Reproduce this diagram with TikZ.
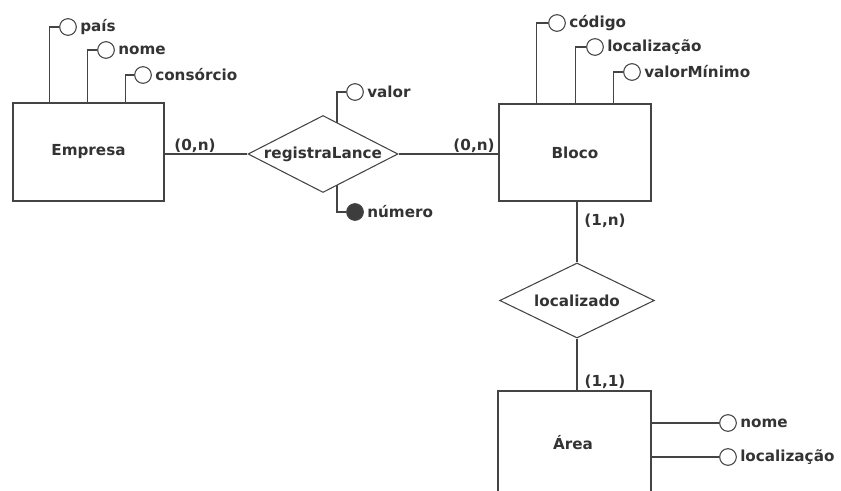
\documentclass[tikz,border=0pt]{standalone}
\usepackage{fontspec}
\setmainfont{DejaVu Sans}
\usetikzlibrary{shapes.geometric}
\definecolor{ln}{HTML}{444444}
\definecolor{tx}{HTML}{333333}
\tikzset{
  ent/.style={draw=ln, line width=1.3pt, rectangle, inner sep=0pt, text=tx, font=\fontsize{11.4}{13}\selectfont\bfseries},
  rel/.style={draw=ln, line width=0.8pt, diamond, aspect=2, inner sep=0pt, text=tx, font=\fontsize{11.4}{13}\selectfont\bfseries},
  attr/.style={draw=ln, line width=0.8pt, circle, fill=white, minimum size=12.5pt, inner sep=0pt},
  keyattr/.style={attr, fill=ln!90!black},
  lab/.style={anchor=west, inner sep=0pt, text=tx, font=\fontsize{11.4}{13}\selectfont\bfseries},
  card/.style={inner sep=0pt, text=tx, font=\fontsize{11.4}{13}\selectfont\bfseries},
  conn/.style={draw=ln, line width=0.9pt},
}
\begin{document}
\begin{tikzpicture}[x=0.75pt, y=-0.75pt]
\useasboundingbox (0,0) rectangle (841,491);
\clip (0,0) rectangle (841,491);
% entities
\node[ent, minimum width=113.25pt, minimum height=73.5pt] (emp) at (88.5,152) {Empresa};
\node[ent, minimum width=114pt, minimum height=72.75pt] (blo) at (575,152.5) {Bloco};
\node[ent, minimum width=114.75pt, minimum height=78pt, text depth=0pt] (are) at (574.5,443) {};
\node[card] (aretxt) at (573,443) {Área};
% relationships
\node[rel, minimum width=112.5pt, minimum height=57.75pt] (reg) at (323,154) {registraLance};
\node[rel, minimum width=116pt, minimum height=56.25pt] (loc) at (577,300.5) {localizado};
% Empresa attributes
\node[attr] (pais) at (68,27) {};
\node[lab] (paisl) at (80,27) {país};
\node[attr] (nome) at (106,50) {};
\node[lab] (nomel) at (118,50) {nome};
\node[attr] (cons) at (143,75) {};
\node[lab] (consl) at (155,75) {consórcio};
\draw[conn] (emp.north west) ++(37,0) |- (pais.west);
\draw[conn] (emp.north west) ++(75,0) |- (nome.west);
\draw[conn] (emp.north west) ++(113,0) |- (cons.west);
% Bloco attributes
\node[attr] (cod) at (557,23) {};
\node[lab] (codl) at (569,23) {código};
\node[attr] (bloc) at (595,47) {};
\node[lab] (blocl) at (607,47) {localização};
\node[attr] (vmin) at (632,72) {};
\node[lab] (vminl) at (644,72) {valorMínimo};
\draw[conn] (blo.north west) ++(38,0) |- (cod.west);
\draw[conn] (blo.north west) ++(77,0) |- (bloc.west);
\draw[conn] (blo.north west) ++(115,0) |- (vmin.west);
% registraLance attributes
\node[attr] (val) at (355,92) {};
\node[lab] (vall) at (367,92) {valor};
\node[keyattr] (num) at (355,212) {};
\node[lab] (numl) at (367,212) {número};
\coordinate (vtop) at (337,123);
\coordinate (vbot) at (337,185);
\draw[conn] (vtop) |- (val.west);
\draw[conn] (vbot) |- (num.west);
% Área attributes
\node[attr] (anome) at (728,423) {};
\node[lab] (anomel) at (740,423) {nome};
\node[attr] (aloc) at (728,457) {};
\node[lab] (alocl) at (740,457) {localização};
\draw[conn] (are.east |- anome) -- (anome.west);
\draw[conn] (are.east |- aloc) -- (aloc.west);
% relationship connectors
\draw[conn] (emp.east |- reg.west) -- (reg.west);
\draw[conn] (reg.east) -- (blo.west |- reg.east);
\draw[conn] (blo.south -| loc.north) -- (loc.north);
\draw[conn] (loc.south) -- (are.north -| loc.south);
% cardinalities
\node[card] (c1) at (195,146) {(0,n)};
\node[card] (c2) at (474,146) {(0,n)};
\node[card] (c3) at (605,221) {(1,n)};
\node[card] (c4) at (605,382) {(1,1)};
\end{tikzpicture}
\end{document}
